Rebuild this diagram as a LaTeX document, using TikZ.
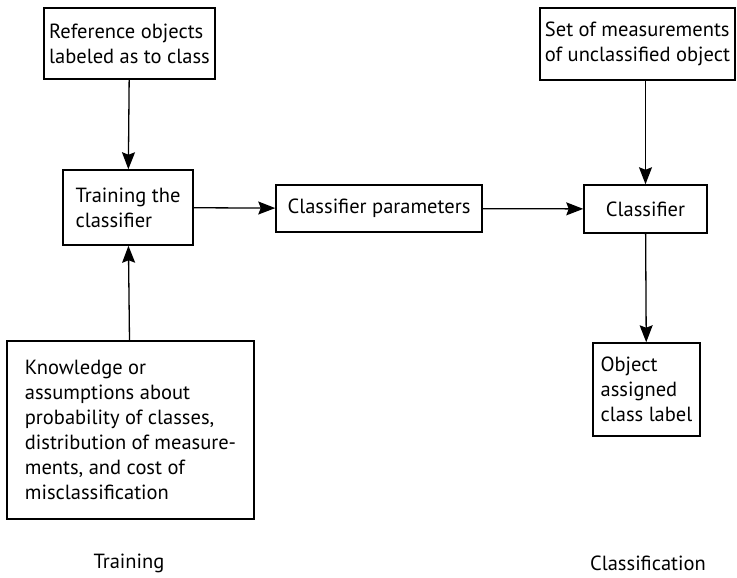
\documentclass[tikz,border=0pt]{standalone}
\usepackage{fontspec}
\setmainfont{PT Sans}
\usepackage{tikz}
\usetikzlibrary{arrows.meta}
\tikzset{
  blk/.style={draw, line width=1.5pt, align=left, inner sep=0pt, font=\fontsize{20.5}{25}\selectfont},
  flow/.style={line width=1.3pt, -{Stealth[length=17pt,width=13pt,inset=2.5pt]}},
  stage/.style={font=\fontsize{20.5}{25}\selectfont}
}
\newcommand{\stagebox}[6]{\node[blk, minimum width=#4pt, minimum height=#5pt] (#1) at (#2,#3) {#6};}

\begin{document}
\begin{tikzpicture}[x=1pt,y=-1pt]
        \useasboundingbox (0,0) rectangle (737,578);
        % training side
        \stagebox{ref}{129.5}{43.5}{171}{71}{Reference objects\\labeled as to class}
        \stagebox{train}{128}{207.5}{130}{75}{Training the\\classifier}
        \stagebox{know}{130.5}{430}{247}{178}{Knowledge or\\assumptions about\\probability of classes,\\distribution of measure-\\ments, and cost of\\misclassification}
        % middle
        \stagebox{param}{379}{208.5}{206}{47}{Classifier parameters}
        % classification side
        \stagebox{meas}{637.5}{44}{195}{72}{Set of measurements\\of unclassified object}
        \stagebox{clf}{645.5}{209}{123}{48}{Classifier}
        \stagebox{obj}{646.5}{389.5}{107}{93}{Object\\assigned\\class label}
        % arrows
        \draw[flow] (ref) -- (train);
        \draw[flow] (know) -- (train);
        \draw[flow] (train) -- (param);
        \draw[flow] (param) -- (clf);
        \draw[flow] (meas.south -| clf.north) -- (clf.north);
        \draw[flow] (clf) -- (obj);
        % stage names
        \node[stage] (trainlbl) at (129,563) {Training};
        \node[stage] (clflbl) at (648,563) {Classification};
\end{tikzpicture}
\end{document}
